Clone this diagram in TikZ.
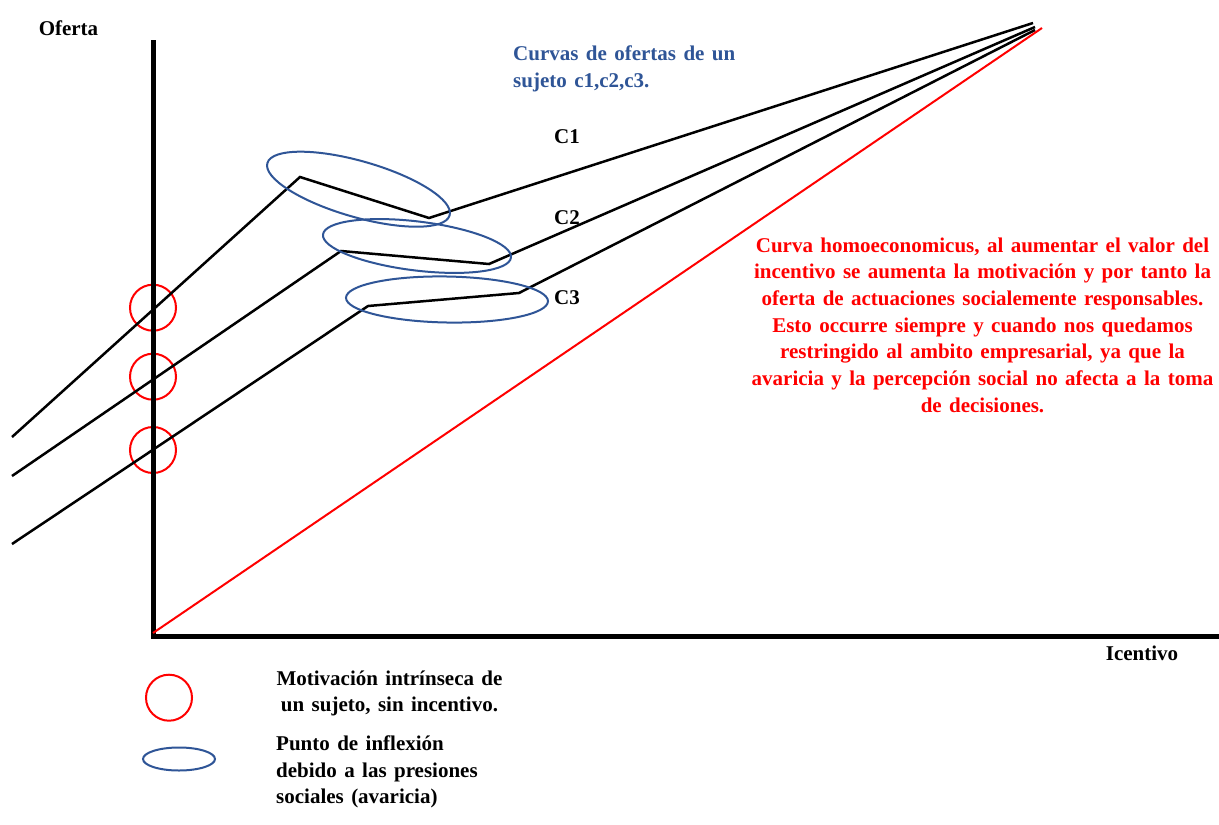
\documentclass[tikz,border=0pt]{standalone}
\usepackage{fontspec}
\setmainfont{Liberation Serif}
\usetikzlibrary{shapes.geometric}
\definecolor{oblue}{RGB}{47,85,151}
\newcommand\lblfont{\bfseries\fontsize{21}{26.7}\selectfont\spaceskip 7.4pt\relax}
\begin{document}
\begin{tikzpicture}[x=1pt,y=-1pt,
  lbl/.style={font=\lblfont, inner sep=0pt},
  axisline/.style={line width=5pt, black, line join=miter},
  curve/.style={line width=2.5pt, black, line join=miter},
  homo/.style={line width=2pt, red},
  redcirc/.style={circle, draw=red, line width=2pt, minimum size=46pt, inner sep=0pt},
  blueell/.style={ellipse, draw=oblue, line width=2pt, inner sep=0pt}]
\useasboundingbox[fill=white] (0,0) rectangle (1219,825);

% axes
\coordinate (ytop) at (153,40);
\coordinate (o) at (153,636);
\coordinate (xend) at (1219,636);

% red circles (intrinsic motivation)
\node[redcirc] (r1) at (153,307.7) {};
\node[redcirc] (r2) at (153,376.7) {};
\node[redcirc] (r3) at (153,450) {};

\draw[axisline] (ytop) -- (o) -- (xend);

% curves
\coordinate (a0) at (12,437);  \coordinate (a1) at (300,177);
\coordinate (a2) at (429,218); \coordinate (a3) at (1033,23);
\coordinate (b0) at (12,476);  \coordinate (b1) at (341,251);
\coordinate (b2) at (489,264); \coordinate (b3) at (1035,27);
\coordinate (c0) at (12,544);  \coordinate (c1) at (368,306);
\coordinate (c2) at (519,293); \coordinate (c3) at (1035,30);
\coordinate (h0) at (153,633); \coordinate (h1) at (1042,28);

\draw[curve] (a0) -- (a1) -- (a2) -- (a3);
\draw[curve] (b0) -- (b1) -- (b2) -- (b3);
\draw[curve] (c0) -- (c1) -- (c2) -- (c3);
\draw[homo] (h0) -- (h1);

% blue ellipses (inflection points)
\node[blueell, minimum width=189.6pt, minimum height=56pt, rotate=-16] (e1) at (358.5,189.2) {};
\node[blueell, minimum width=189.4pt, minimum height=49pt, rotate=-7] (e2) at (417,246) {};
\node[blueell, minimum width=202pt, minimum height=46pt, rotate=-1] (e3) at (447,299.5) {};

% labels
\node[lbl] (oferta) at (68.5,28) {Oferta};
\node[lbl] (icentivo) at (1142,653) {Icentivo};
\node[lbl, text=oblue, align=left, anchor=west] (titulo) at (513,68.5)
  {Curvas de ofertas de un\\sujeto c1,c2,c3.};
\node[lbl] (lc1) at (567,137) {C1};
\node[lbl] (lc2) at (567,218) {C2};
\node[lbl] (lc3) at (567,298) {C3};
\node[lbl, text=red, align=center] (homotxt) at (982.5,325)
  {Curva homoeconomicus, al aumentar el valor del\\
   incentivo se aumenta la motivación y por tanto la\\
   oferta de actuaciones socialemente responsables.\\
   Esto occurre siempre y cuando nos quedamos\\
   restringido al ambito empresarial, ya que la\\
   avaricia y la percepción social no afecta a la toma\\
   de decisiones.};

% legend
\node[redcirc] (legc) at (169,697.7) {};
\node[blueell, minimum width=72pt, minimum height=23pt] (lege) at (179,759) {};
\node[lbl, align=center] (legt1) at (389.5,693.5)
  {Motivación intrínseca de\\un sujeto, sin incentivo.};
\node[lbl, align=left, anchor=west] (legt2) at (276,772)
  {Punto de inflexión\\debido a las presiones\\sociales (avaricia)};
\end{tikzpicture}
\end{document}
